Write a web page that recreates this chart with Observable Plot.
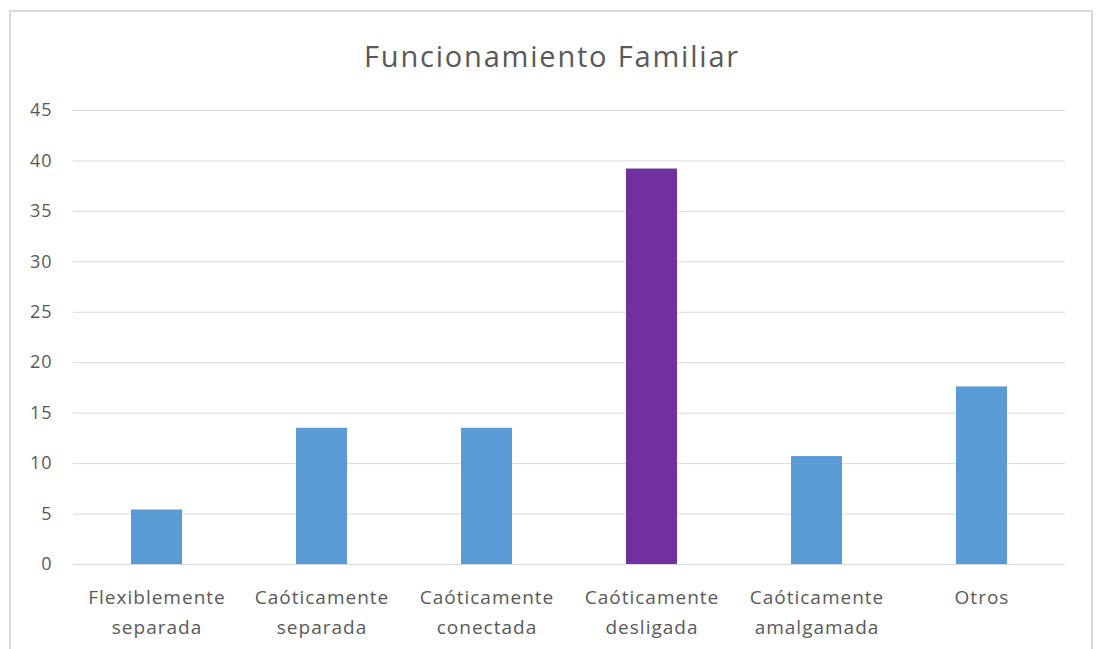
<!DOCTYPE html>
<html>
<head>
<meta charset="utf-8">
<script src="https://cdn.jsdelivr.net/npm/d3@7"></script>
<script src="https://cdn.jsdelivr.net/npm/@observablehq/plot@0.6"></script>
<style>
  html, body { margin: 0; padding: 0; background: #fff; }
  body { width: 1096px; height: 649px; overflow: hidden; position: relative; font-family: "Open Sans", sans-serif; }
  #frame { position: absolute; left: 9px; top: 10px; width: 1080px; height: 700px; border: 2px solid #d9d9d9; box-sizing: content-box; }
  #title { position: absolute; left: 0; top: 9px; width: 1104px; height: 90px; line-height: 94px; text-align: center; font-size: 29px; letter-spacing: 1.8px; color: #595959; }
  #chart { position: absolute; left: 0; top: 90px; }
  #chart svg text { letter-spacing: 1px; }
</style>
</head>
<body>
<div id="frame"></div>
<div id="title">Funcionamiento Familiar</div>
<div id="chart"></div>
<script>
const categories = ["Flexiblemente\nseparada", "Caóticamente\nseparada", "Caóticamente\nconectada", "Caóticamente\ndesligada", "Caóticamente\namalgamada", "Otros"];
const values = [5.4, 13.5, 13.5, 39.2, 10.7, 17.6];
const barColors = ["#5B9BD5", "#5B9BD5", "#5B9BD5", "#7030A0", "#5B9BD5", "#5B9BD5"];
const yTicks = [0, 5, 10, 15, 20, 25, 30, 35, 40, 45];

const data = categories.map((c, i) => ({cat: c, value: values[i], color: barColors[i]}));

const chart = Plot.plot({
  width: 1096,
  height: 559,
  marginTop: 20,
  marginBottom: 85,
  marginLeft: 73,
  marginRight: 31,
  style: {fontFamily: "Open Sans, sans-serif", color: "#595959", background: "transparent"},
  x: {domain: categories, paddingInner: 0.69, paddingOuter: 0.345, axis: null},
  y: {domain: [0, 45], axis: null},
  color: {type: "identity"},
  marks: [
    Plot.gridY(yTicks, {stroke: "#d9d9d9", strokeOpacity: 1, strokeWidth: 1}),
    Plot.barY(data, {x: "cat", y: "value", fill: "color"}),
    Plot.axisY(yTicks, {tickSize: 0, tickPadding: 21, fontSize: 18, fill: "#595959", label: null, tickFormat: d => String(d)}),
    Plot.axisX(categories, {tickSize: 0, tickPadding: 18, fontSize: 19, fill: "#595959", label: null, lineHeight: 1.58, textAnchor: "middle"})
  ]
});
document.getElementById("chart").appendChild(chart);
</script>
</body>
</html>
